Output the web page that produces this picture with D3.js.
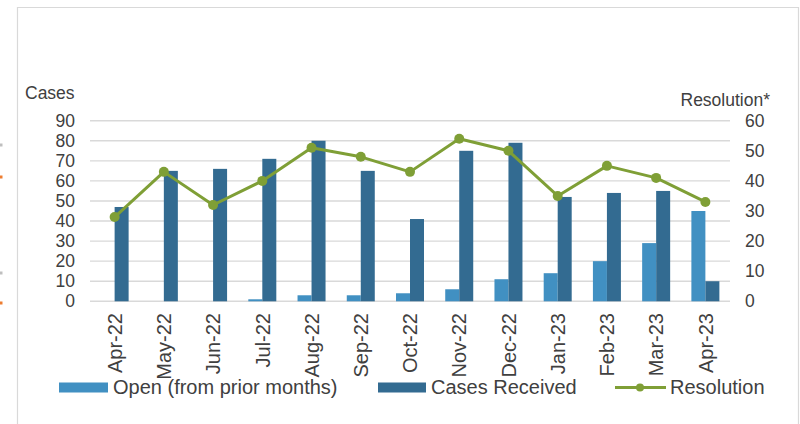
<!DOCTYPE html>
<html>
<head>
<meta charset="utf-8">
<script src="https://cdn.jsdelivr.net/npm/d3@7"></script>
<style>
  body { margin: 0; background: #fff; }
  svg { display: block; font-family: "Liberation Sans", Arial, sans-serif; }
  .tick text { fill: #404040; }
</style>
</head>
<body>
<svg id="chart" width="800" height="424"></svg>
<script>
var months = ['Apr-22', 'May-22', 'Jun-22', 'Jul-22', 'Aug-22', 'Sep-22', 'Oct-22',
    'Nov-22', 'Dec-22', 'Jan-23', 'Feb-23', 'Mar-23', 'Apr-23'];
var openPrior = [0, 0, 0, 1, 3, 3, 4, 6, 11, 14, 20, 29, 45];
var received = [47, 65, 66, 71, 80, 65, 41, 75, 79, 52, 54, 55, 10];
var resolution = [28, 43, 32, 40, 51, 48, 43, 54, 50, 35, 45, 41, 33];
var leftTicks = [0, 10, 20, 30, 40, 50, 60, 70, 80, 90];
var rightTicks = [0, 10, 20, 30, 40, 50, 60];

var colors = { open: '#4190c2', received: '#336b91', line: '#7f9f36', grid: '#d9d9d9', text: '#404040' };

var svg = d3.select('#chart');

// frame around the chart area
svg.append('path')
    .attr('d', 'M17.5,424 V7.5 H798.5 V424')
    .attr('fill', 'none')
    .attr('stroke', '#d9d9d9')
    .attr('stroke-width', 1.2);

// cropped bits at the far left edge
[[145, '#bfbfbf'], [177, '#ed7d31'], [273, '#bfbfbf'], [303, '#ed7d31']].forEach(function (m) {
    svg.append('rect').attr('x', 0).attr('y', m[0] - 1.5).attr('width', 2.5).attr('height', 3).attr('fill', m[1]);
});

var x = d3.scaleBand().domain(months).range([90, 730]);
var sub = d3.scaleBand().domain(['open', 'received']).range([0, 28]);
var yLeft = d3.scaleLinear().domain([0, 90]).range([301.3, 120.7]);
var yRight = d3.scaleLinear().domain([0, 60]).range([301.3, 120.7]);

function cx(m) { return x(m) + x.bandwidth() / 2; }

// gridlines
svg.append('g').selectAll('line')
    .data(leftTicks)
    .enter().append('line')
    .attr('x1', 90).attr('x2', 730)
    .attr('y1', function (d) { return yLeft(d); })
    .attr('y2', function (d) { return yLeft(d); })
    .attr('stroke', colors.grid)
    .attr('stroke-width', 1.4);

// left axis
var gl = svg.append('g')
    .attr('transform', 'translate(90,0)')
    .call(d3.axisLeft(yLeft).tickValues(leftTicks).tickSize(0).tickPadding(15));
gl.select('.domain').remove();
gl.selectAll('text').style('font-size', '17.5px');

// right axis
var gr = svg.append('g')
    .attr('transform', 'translate(730,0)')
    .call(d3.axisRight(yRight).tickValues(rightTicks).tickSize(0).tickPadding(15));
gr.select('.domain').remove();
gr.selectAll('text').style('font-size', '17.5px');

svg.append('text')
    .attr('x', 25).attr('y', 99)
    .attr('fill', colors.text)
    .style('font-size', '17.5px')
    .text('Cases');

svg.append('text')
    .attr('x', 770).attr('y', 105.5)
    .attr('text-anchor', 'end')
    .attr('fill', colors.text)
    .style('font-size', '17.5px')
    .text('Resolution*');

// bars
var rows = months.map(function (m, i) {
    return { month: m, open: openPrior[i], received: received[i], resolution: resolution[i] };
});

var groups = svg.append('g').selectAll('g')
    .data(rows)
    .enter().append('g')
    .attr('transform', function (d) { return 'translate(' + (cx(d.month) - 14) + ',0)'; });

groups.selectAll('rect')
    .data(function (d) {
        return [{ key: 'open', value: d.open }, { key: 'received', value: d.received }];
    })
    .enter().append('rect')
    .attr('x', function (d) { return sub(d.key); })
    .attr('width', sub.bandwidth())
    .attr('y', function (d) { return yLeft(d.value); })
    .attr('height', function (d) { return yLeft(0) - yLeft(d.value); })
    .attr('fill', function (d) { return colors[d.key]; });

// resolution line
var line = d3.line()
    .x(function (d) { return cx(d.month); })
    .y(function (d) { return yRight(d.resolution); });

svg.append('path')
    .datum(rows)
    .attr('d', line)
    .attr('fill', 'none')
    .attr('stroke', colors.line)
    .attr('stroke-width', 3)
    .attr('stroke-linejoin', 'round');

svg.append('g').selectAll('circle')
    .data(rows)
    .enter().append('circle')
    .attr('cx', function (d) { return cx(d.month); })
    .attr('cy', function (d) { return yRight(d.resolution); })
    .attr('r', 5)
    .attr('fill', colors.line);

// category labels
svg.append('g').selectAll('text')
    .data(months)
    .enter().append('text')
    .attr('transform', function (d) { return 'translate(' + cx(d) + ',313) rotate(-90)'; })
    .attr('text-anchor', 'end')
    .attr('dy', '0.36em')
    .attr('fill', colors.text)
    .style('font-size', '20px')
    .text(function (d) { return d; });

// legend
var legend = svg.append('g');
legend.append('rect').attr('x', 59).attr('y', 382.5).attr('width', 49).attr('height', 10).attr('fill', colors.open);
legend.append('text').attr('x', 113).attr('y', 394).attr('fill', colors.text).style('font-size', '20px')
    .text('Open (from prior months)');
legend.append('rect').attr('x', 378).attr('y', 382.5).attr('width', 48).attr('height', 10).attr('fill', colors.received);
legend.append('text').attr('x', 431).attr('y', 394).attr('fill', colors.text).style('font-size', '20px')
    .text('Cases Received');
legend.append('line').attr('x1', 615).attr('x2', 666).attr('y1', 387.5).attr('y2', 387.5)
    .attr('stroke', colors.line).attr('stroke-width', 3);
legend.append('circle').attr('cx', 640).attr('cy', 387.5).attr('r', 4).attr('fill', colors.line);
legend.append('text').attr('x', 670).attr('y', 394).attr('fill', colors.text).style('font-size', '20px')
    .text('Resolution');
</script>
</body>
</html>
